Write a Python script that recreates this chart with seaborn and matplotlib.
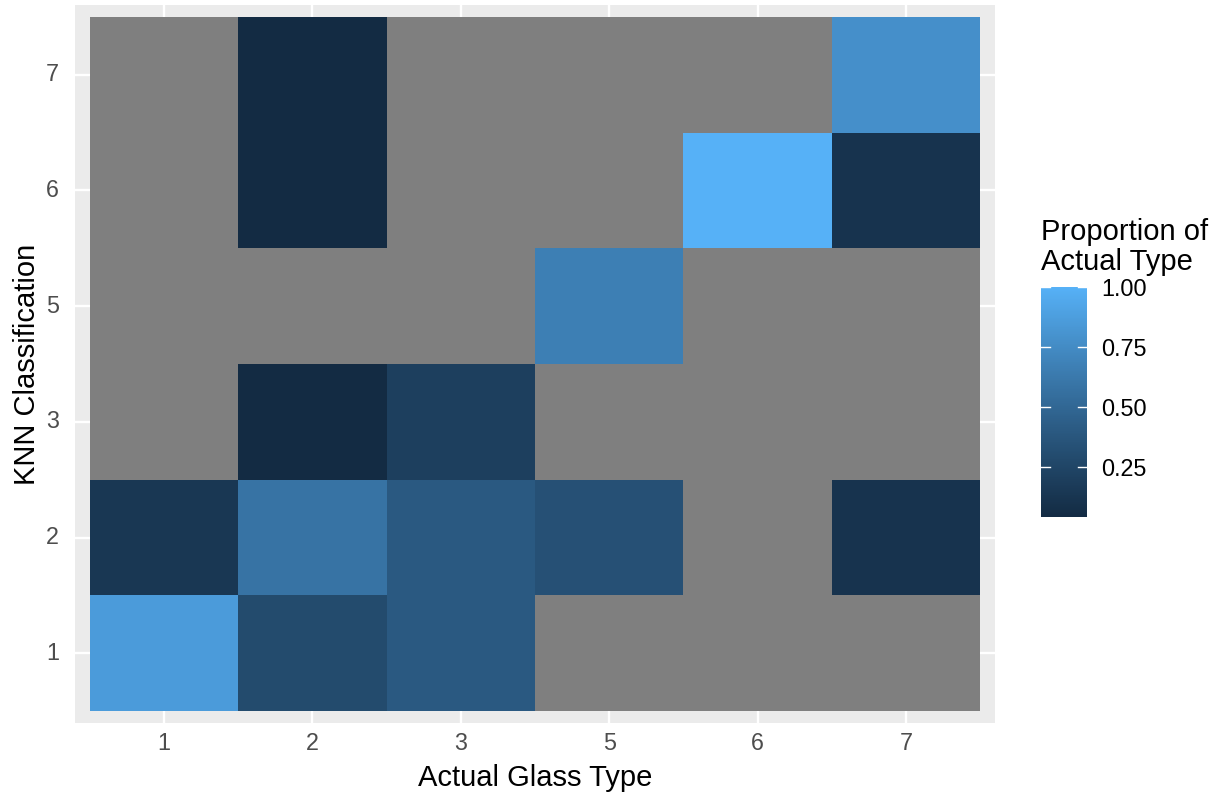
import matplotlib
matplotlib.use("Agg")
import matplotlib.pyplot as plt
import numpy as np
import pandas as pd
import seaborn as sns
from matplotlib.colors import ListedColormap

actual_types = ["1", "2", "3", "5", "6", "7"]
knn_types = ["1", "2", "3", "5", "6", "7"]

# proportion of each actual type classified as each KNN class (NaN = no cases)
prop_actual_1 = [0.857, 0.143, np.nan, np.nan, np.nan, np.nan]
prop_actual_2 = [0.292, 0.583, 0.042, np.nan, 0.042, 0.042]
prop_actual_3 = [0.40, 0.40, 0.20, np.nan, np.nan, np.nan]
prop_actual_5 = [np.nan, 0.333, np.nan, 0.667, np.nan, np.nan]
prop_actual_6 = [np.nan, np.nan, np.nan, np.nan, 1.00, np.nan]
prop_actual_7 = [np.nan, 0.111, np.nan, np.nan, 0.111, 0.778]


def srgb_to_lab(hexcol):
    rgb = np.array([int(hexcol[i:i + 2], 16) / 255 for i in (1, 3, 5)])
    lin = np.where(rgb <= 0.04045, rgb / 12.92, ((rgb + 0.055) / 1.055) ** 2.4)
    m = np.array([[0.4124, 0.3576, 0.1805], [0.2126, 0.7152, 0.0722], [0.0193, 0.1192, 0.9505]])
    xyz = m @ lin / np.array([0.95047, 1.0, 1.08883])
    f = np.where(xyz > 0.008856, np.cbrt(xyz), 7.787 * xyz + 16 / 116)
    return np.array([116 * f[1] - 16, 500 * (f[0] - f[1]), 200 * (f[1] - f[2])])


def lab_to_srgb(lab):
    fy = (lab[0] + 16) / 116
    fx = fy + lab[1] / 500
    fz = fy - lab[2] / 200
    f = np.array([fx, fy, fz])
    xyz = np.where(f ** 3 > 0.008856, f ** 3, (f - 16 / 116) / 7.787) * np.array([0.95047, 1.0, 1.08883])
    minv = np.array([[3.2406, -1.5372, -0.4986], [-0.9689, 1.8758, 0.0415], [0.0557, -0.2040, 1.0570]])
    lin = minv @ xyz
    rgb = np.where(lin <= 0.0031308, 12.92 * lin, 1.055 * np.clip(lin, 0, None) ** (1 / 2.4) - 0.055)
    return np.clip(rgb, 0, 1)


# ggplot-style gradient, interpolated in Lab
lo, hi = srgb_to_lab("#132B43"), srgb_to_lab("#56B1F7")
cmap = ListedColormap([lab_to_srgb(lo + t * (hi - lo)) for t in np.linspace(0, 1, 256)])
cmap.set_bad("#7F7F7F")

df = pd.DataFrame(
    {"1": prop_actual_1, "2": prop_actual_2, "3": prop_actual_3,
     "5": prop_actual_5, "6": prop_actual_6, "7": prop_actual_7},
    index=knn_types,
)
df = df.iloc[::-1]
vals = df.values[~np.isnan(df.values)]

plt.rcParams["font.family"] = ["Liberation Sans", "DejaVu Sans"]
fig = plt.figure(figsize=(12.18, 7.93), dpi=100)
ax = fig.add_axes([0.0616, 0.0888, 0.8169 - 0.0616, 0.9932 - 0.0888])
cax = fig.add_axes([1041 / 1218, 1 - 517 / 793, 46 / 1218, 230 / 793])

ax.set_facecolor("#EBEBEB")
for i in range(6):
    ax.axvline(i + 0.5, color="white", lw=1.7, zorder=0)
    ax.axhline(i + 0.5, color="white", lw=1.7, zorder=0)

sns.heatmap(df, ax=ax, cmap=cmap, vmin=vals.min(), vmax=vals.max(), cbar_ax=cax,
            linewidths=0, cbar_kws={"ticks": [0.25, 0.5, 0.75, 1.0]})
ax.set_xlim(-0.1, 6.1)
ax.set_ylim(6.1, -0.1)
for s in ax.spines.values():
    s.set_visible(False)
ax.tick_params(length=0, labelsize=16.8, labelcolor="#4D4D4D")
ax.tick_params(axis="x", pad=6.5)
ax.tick_params(axis="y", pad=11.5)
ax.set_xticklabels(actual_types, rotation=0)
ax.set_yticklabels(list(df.index), rotation=0)
ax.set_xlabel("Actual Glass Type", fontsize=21, labelpad=7)
ax.set_ylabel("KNN Classification", fontsize=21, labelpad=4)

cax.tick_params(length=0, labelsize=16.8, pad=10)
cax.set_yticklabels(["0.25", "0.50", "0.75", "1.00"])
for s in cax.spines.values():
    s.set_visible(False)
for t in [0.25, 0.5, 0.75, 1.0]:
    cax.plot([0, 0.2], [t, t], color="white", lw=1, transform=cax.get_yaxis_transform())
    cax.plot([0.8, 1.0], [t, t], color="white", lw=1, transform=cax.get_yaxis_transform())
fig.text(1041 / 1218, 1 - 276 / 793, "Proportion of\nActual Type", fontsize=21,
         ha="left", va="bottom", linespacing=1.1)

fig.savefig("out.png", dpi=100)
